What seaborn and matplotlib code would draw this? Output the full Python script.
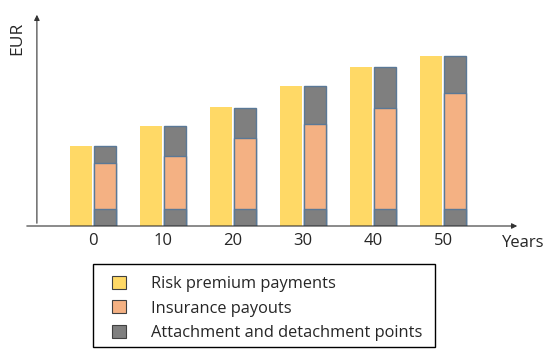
import pandas as pd
import seaborn as sns
import matplotlib.pyplot as plt
from matplotlib.patches import Patch, Rectangle

years = ["0", "10", "20", "30", "40", "50"]
premium = [80, 100, 119, 140, 159, 170]
bar_top = [80, 100, 118, 140, 159, 170]
payout_top = [63, 70, 88, 102, 118, 133]
attach_low = [17, 17, 17, 17, 17, 17]

legend_labels = ["Risk premium payments", "Insurance payouts", "Attachment and detachment points"]

yellow = "#FFD966"
orange = "#F4B183"
gray = "#7F7F7F"
edge = "#5A7896"

sns.set_style("white")
plt.rcParams["font.family"] = ["Open Sans", "DejaVu Sans"]

fig = plt.figure(figsize=(5.5, 3.54), dpi=100)
ax = fig.add_axes([24 / 550, 1 - 226 / 354, 496 / 550, 214 / 354])

levels = ["premium", "structure"]
pal = {"premium": yellow, "structure": gray}


def layer(values, level, color, lw, ec):
    d = pd.DataFrame({"year": years, "series": level, "value": values})
    sns.barplot(data=d, x="year", y="value", hue="series", hue_order=levels, order=years,
                palette={**pal, level: color}, saturation=1, width=0.7, gap=0.12, dodge=True,
                errorbar=None, linewidth=lw, edgecolor=ec, legend=False, ax=ax)


layer(premium, "premium", yellow, 0, yellow)
layer(bar_top, "structure", gray, 1.0, edge)
layer(payout_top, "structure", orange, 1.0, edge)
layer(attach_low, "structure", gray, 1.0, edge)

ax.set_xlim(-0.986, 6.1)
ax.set_ylim(0, 214)
sns.despine(ax=ax, left=True, bottom=True)
ax.set_yticks([])
ax.set_xlabel("")
ax.set_ylabel("")
ax.tick_params(axis="x", length=0, pad=5, labelsize=12)

arrow = dict(arrowstyle="-|>", color="#333333", lw=0.8, mutation_scale=8)
ax.annotate("", xy=(1, 0), xytext=(0, 0), xycoords="axes fraction", arrowprops=arrow)
ax.annotate("", xy=(0.026, 1), xytext=(0.026, 0), xycoords="axes fraction", arrowprops=arrow)

fig.text(502 / 550, 1 - 243 / 354, "Years", ha="left", va="center", fontsize=12)
fig.text(17 / 550, 1 - 38 / 354, "EUR", ha="center", va="center", rotation=90, fontsize=12.5)

# legend frame drawn separately so the padding can be uneven, as in the original
fig.patches.append(Rectangle((93 / 550, 1 - 347 / 354), 342 / 550, 83 / 354, transform=fig.transFigure,
                             facecolor="white", edgecolor="black", linewidth=1.0, zorder=0))

handles = [Patch(facecolor=c, edgecolor="#404040", linewidth=0.8) for c in (yellow, orange, gray)]
leg = fig.legend(handles, legend_labels, loc="upper left", bbox_to_anchor=(112 / 550, 1 - 276 / 354),
                 fontsize=11.8, frameon=False, borderpad=0, borderaxespad=0,
                 handlelength=0.85, handleheight=0.85, handletextpad=1.5, labelspacing=0.5)

fig.savefig("out.png", dpi=100)
